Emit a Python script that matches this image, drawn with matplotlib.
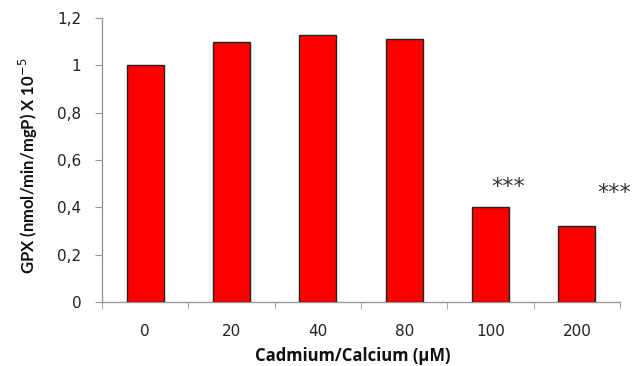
import matplotlib
matplotlib.use("Agg")
import matplotlib.pyplot as plt
import numpy as np

categories = ["0", "20", "40", "80", "100", "200"]
values = [1.00, 1.10, 1.13, 1.11, 0.40, 0.32]
star_labels = ["", "", "", "", "***", "***"]
star_y = [None, None, None, None, 0.485, 0.46]
star_dx = [0, 0, 0, 0, 0.2, 0.43]
yticks = [0, 0.2, 0.4, 0.6, 0.8, 1.0, 1.2]
ytick_labels = ["0", "0,2", "0,4", "0,6", "0,8", "1", "1,2"]

fig = plt.figure(figsize=(6.34, 3.66), dpi=100)
ax = fig.add_axes([0.161, 0.175, 0.817, 0.776])

x = np.arange(len(categories))
ax.bar(x, values, width=0.43, color="#ff0000", edgecolor="#222222", linewidth=1.0, zorder=3)

for xi, lab, sy, dx in zip(x, star_labels, star_y, star_dx):
    if lab:
        ax.text(xi + dx, sy, lab, ha="center", va="center", fontsize=16,
                color="#333333", family="DejaVu Sans")

ax.set_xlim(-0.5, len(categories) - 0.5)
ax.set_ylim(0, 1.2)
ax.set_yticks(yticks)
ax.set_yticklabels(ytick_labels)
ax.set_xticks(x)
ax.set_xticklabels(categories)
ax.set_xticks(np.arange(-0.5, len(categories)), minor=True)
ax.tick_params(axis="x", which="major", length=0, pad=16, labelsize=11, labelcolor="#222222")
ax.tick_params(axis="x", which="minor", length=5, color="#999999", direction="out")
ax.tick_params(axis="y", length=5, color="#999999", direction="out", pad=10,
               labelsize=11, labelcolor="#222222")

for s in ["top", "right"]:
    ax.spines[s].set_visible(False)
for s in ["left", "bottom"]:
    ax.spines[s].set_color("#999999")
    ax.spines[s].set_linewidth(1.0)

ax.set_xlabel("Cadmium/Calcium (µM)", fontsize=12, fontweight="bold",
              family="Open Sans", color="#111111", va="center")
ax.xaxis.set_label_coords(0.483, -0.19)
ax.set_ylabel(r"GPX (nmol/min/mgP) X 10$^{-5}$", fontsize=12, fontweight="bold",
              family="Lato", color="#111111", va="center")
ax.yaxis.set_label_coords(-0.143, 0.48)

fig.savefig("out.png", dpi=100)
